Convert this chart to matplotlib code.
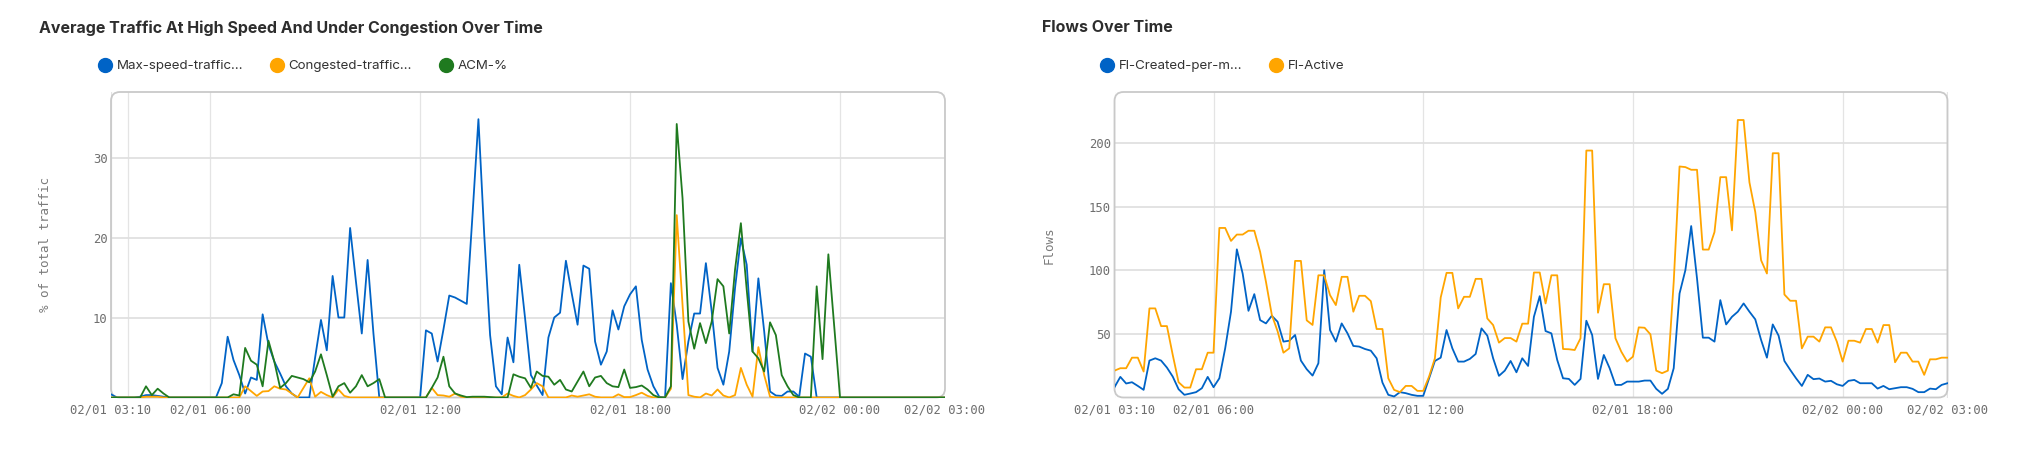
import matplotlib
matplotlib.use("Agg")
import matplotlib.dates as mdates
import matplotlib.pyplot as plt
import pandas as pd
from matplotlib.lines import Line2D
from matplotlib.patches import FancyBboxPatch

W, H = 2035, 468

# 10-minute samples, 02/01 03:10 -> 02/02 03:00
START = "2024-02-01 03:10"
N_POINTS = 144

left_title = "Average Traffic At High Speed And Under Congestion Over Time"
left_labels = ["Max-speed-traffic…", "Congested-traffic…", "ACM-%"]
left_ylabel = "% of total traffic"
left_yticks = [10, 20, 30]

right_title = "Flows Over Time"
right_labels = ["Fl-Created-per-m…", "Fl-Active"]
right_ylabel = "Flows"
right_yticks = [50, 100, 150, 200]

xtick_times = ["2024-02-01 03:10", "2024-02-01 06:00", "2024-02-01 12:00",
               "2024-02-01 18:00", "2024-02-02 00:00", "2024-02-02 03:00"]

max_speed = [
    0.4, 0, 0, 0, 0, 0.1, 0.3, 0.3, 0.2, 0.1, 0, 0,
    0, 0, 0, 0, 0, 0, 0, 1.8, 7.6, 4.7, 2.8, 0.5,
    2.5, 2.2, 10.4, 6.6, 4.5, 3.0, 1.4, 0.5, 0, 0, 0, 5.0,
    9.7, 5.9, 15.2, 10.0, 10.0, 21.2, 14.5, 8.0, 17.2, 8.0, 0, 0,
    0, 0, 0, 0, 0, 0, 8.4, 8.0, 4.5, 8.5, 12.75, 12.5,
    12.1, 11.7, 23.0, 34.8, 20.3, 7.8, 1.4, 0.4, 7.5, 4.4, 16.6, 9.9,
    2.8, 1.5, 0.3, 7.5, 10.0, 10.6, 17.1, 13.0, 9.1, 16.5, 16.1, 7.0,
    4.1, 5.75, 10.9, 8.5, 11.4, 12.9, 13.9, 7.2, 3.5, 1.4, 0.1, 0,
    14.3, 9.1, 2.3, 7.0, 10.5, 10.5, 16.8, 10.75, 3.7, 1.6, 5.75, 13.7,
    19.9, 16.6, 5.75, 14.9, 8.25, 0.75, 0.25, 0.2, 0.75, 0.75, 0.1, 5.5,
    5.1, 0, 0, 0, 0, 0, 0, 0, 0, 0, 0, 0,
    0, 0, 0, 0, 0, 0, 0, 0, 0, 0, 0, 0,
]
congested = [
    0, 0, 0, 0, 0, 0, 0.1, 0.1, 0.1, 0, 0, 0,
    0, 0, 0, 0, 0, 0, 0, 0, 0, 0, 0, 1.4,
    0.8, 0.2, 0.75, 0.8, 1.4, 1.1, 1.0, 0.5, 0, 1.2, 2.4, 0.1,
    0.7, 0.3, 0, 1.0, 0.2, 0, 0, 0, 0, 0, 0, 0,
    0, 0, 0, 0, 0, 0, 0, 1.2, 0.3, 0.25, 0.1, 0.5,
    0.1, 0, 0, 0, 0, 0, 0, 0, 0.5, 0.2, 0, 0.3,
    1.0, 1.8, 1.4, 0, 0, 0, 0, 0.25, 0.1, 0.25, 0.4, 0.1,
    0, 0, 0, 0.4, 0.05, 0.05, 0.3, 0.6, 0.2, 0, 0, 0,
    1.1, 22.8, 11.6, 0.3, 0.1, 0, 0.5, 0.25, 1.0, 0.25, 0, 0.3,
    3.7, 1.6, 0.1, 6.3, 2.8, 0.1, 0, 0, 0, 0, 0, 0,
    0, 0, 0, 0, 0, 0, 0, 0, 0, 0, 0, 0,
    0, 0, 0, 0, 0, 0, 0, 0, 0, 0, 0, 0,
]
acm = [
    0, 0, 0, 0, 0, 0, 1.4, 0.3, 1.1, 0.5, 0, 0,
    0, 0, 0, 0, 0, 0, 0, 0, 0, 0.4, 0.25, 6.2,
    4.6, 4.1, 1.4, 7.1, 4.5, 1.2, 1.8, 2.7, 2.5, 2.3, 1.9, 3.25,
    5.4, 2.8, 0.1, 1.4, 1.8, 0.6, 1.4, 2.8, 1.4, 1.8, 2.3, 0,
    0, 0, 0, 0, 0, 0, 0, 1.2, 2.5, 5.1, 1.4, 0.5,
    0.25, 0.05, 0.1, 0.1, 0.1, 0.05, 0, 0, 0, 2.9, 2.6, 2.4,
    1.2, 3.25, 2.7, 2.6, 1.6, 2.2, 1.0, 0.75, 2.0, 3.25, 1.4, 2.5,
    2.7, 1.8, 1.4, 1.3, 3.5, 1.2, 1.3, 1.5, 1.0, 0.3, 0, 0,
    1.4, 34.2, 24.9, 9.5, 6.1, 9.3, 6.8, 9.5, 14.8, 13.9, 8.0, 16.0,
    21.8, 13.5, 5.75, 4.9, 3.25, 9.4, 7.8, 2.8, 1.4, 0.3, 0, 0,
    0, 13.9, 4.8, 17.9, 9.0, 0, 0, 0, 0, 0, 0, 0,
    0, 0, 0, 0, 0, 0, 0, 0, 0, 0, 0, 0,
]

flows_created = [
    8.1, 16.2, 11, 12, 9.1, 6.0, 29, 30.8, 29, 23.5, 16.4, 6.5,
    2.1, 3.1, 4.2, 7.3, 16.2, 8.1, 15.1, 38.6, 67.4, 116.4, 97.4, 68.1,
    81.2, 60.8, 58.2, 64.2, 59.5, 43.9, 44.6, 49.1, 29, 22.2, 17.2, 26.9,
    100, 53, 43.9, 58.2, 50.4, 40.5, 40, 38.1, 36.8, 30.8, 11.7, 2.1,
    0.8, 4.2, 3.4, 2.1, 1.3, 1.3, 15.1, 28.7, 31.3, 53, 38.6, 28.2,
    28.2, 30.3, 34.2, 54.3, 48.6, 30.8, 17, 21.1, 28.7, 19.8, 30.8, 24.8,
    63.4, 79.6, 52.2, 50.4, 29.5, 15.1, 14.6, 9.9, 14.6, 60.3, 49.1, 14.6,
    33.4, 23, 9.9, 9.9, 12.5, 12.5, 12.5, 13.3, 13.3, 6.8, 2.9, 6.8,
    23, 81.7, 100, 134.7, 93.5, 47, 47, 43.9, 76.5, 57.4, 63.4, 67.4,
    73.9, 67.4, 61.4, 45.2, 31.3, 57.4, 48.6, 28.7, 21.7, 15.1, 9.1, 17.8,
    14.4, 14.9, 12.5, 13.1, 10.4, 9.1, 13.1, 13.8, 11.2, 11.2, 11.2, 7.0,
    9.1, 6.5, 7.3, 8.1, 8.1, 6.8, 4.2, 4.2, 7.0, 6.5, 9.9, 11.2,
]
flows_active = [
    21.1, 23, 23, 31.3, 31.3, 20.4, 70, 70, 56.1, 56.1, 33.4, 12,
    7.8, 7.8, 22.2, 22.2, 35.2, 35.2, 133.2, 133.2, 123, 128, 128, 131,
    131, 114.4, 90.9, 65, 52, 35.2, 38.6, 107.3, 107.3, 60.6, 57, 96,
    96, 80.4, 72.6, 94.8, 94.8, 67.4, 79.9, 79.9, 75.7, 53.8, 53.8, 15.1,
    6.0, 4.2, 9.1, 9.1, 5.2, 5.2, 16.4, 30.8, 78.6, 97.9, 97.9, 70,
    79.1, 79.1, 93.2, 93.2, 62.1, 56.9, 43.1, 46.7, 46.7, 43.9, 58, 58,
    98.2, 98.2, 73.9, 96, 96, 38.1, 37.9, 37.3, 46.5, 194, 194, 66.6,
    89, 89, 46.5, 36, 28.2, 32.1, 55.1, 54.8, 49.6, 21.1, 19.1, 21.1,
    90.9, 181.5, 181, 178.9, 178.9, 116.2, 116.2, 130, 173.1, 173.1, 131.3, 218,
    218, 169, 145.7, 107.8, 97.4, 191.9, 191.9, 80.9, 76, 76, 38.6, 47.8,
    47.8, 43.9, 55.1, 55.1, 43.9, 28.2, 44.6, 44.6, 43.1, 53.8, 53.8, 43.1,
    56.9, 56.9, 27.7, 35.2, 35.2, 28.2, 28.2, 17.8, 30, 30, 31.3, 31.3,
]

BLUE = "#0063c6"
ORANGE = "#ffa500"
GREEN = "#1f7a1f"
TEXT = "#2d2d2d"
TICK = "#6e6e6e"
SANS = ["Inter", "DejaVu Sans"]
MONO = ["DejaVu Sans Mono"]
LINE_W = 1.3


def style_panel(ax, times, ylim, yticks, ylabel, label_x, extra_grid=None):
    ax.set_xlim(times[0], times[-1])
    ax.set_ylim(*ylim)
    ax.set_yticks(yticks)
    ax.set_xticks(pd.to_datetime(xtick_times))
    ax.xaxis.set_major_formatter(mdates.DateFormatter("%m/%d %H:%M"))
    if extra_grid is not None:
        ax.set_xticks(pd.to_datetime(extra_grid), minor=True)
    for side in ax.spines.values():
        side.set_visible(False)
    ax.tick_params(axis="both", which="both", length=0, colors=TICK, labelsize=8.8)
    ax.tick_params(axis="y", pad=2.5)
    ax.tick_params(axis="x", pad=4.5)
    for lab in ax.get_xticklabels() + ax.get_yticklabels():
        lab.set_family(MONO)
    ax.grid(axis="y", color="#e0e0e0", lw=1.3, zorder=0)
    ax.grid(axis="x", which="both", color="#e4e4e4", lw=0.9, zorder=0)
    ax.set_axisbelow(True)
    ax.set_ylabel(ylabel, family=MONO, fontsize=9, color="#7a7a7a")
    ax.yaxis.set_label_coords(label_x, 0.5)

    bb = ax.get_position()
    w_px, h_px = bb.width * W, bb.height * H
    box = FancyBboxPatch((0, 0), 1, 1, boxstyle=f"round,pad=0,rounding_size={9 / w_px}",
                         mutation_aspect=w_px / h_px, transform=ax.transAxes,
                         facecolor="none", edgecolor="#c9c9c9", lw=1.3,
                         clip_on=False, zorder=1.5)
    ax.add_patch(box)


def add_legend(ax, colors, labels, x_px):
    handles = [Line2D([], [], marker="o", ls="none", color=c, markersize=10) for c in colors]
    ax.legend(handles, labels, loc="center left", bbox_to_anchor=(x_px / W, 1 - 66 / H),
              bbox_transform=ax.figure.transFigure, ncol=len(labels), frameon=False,
              handlelength=1.05, handletextpad=0.35, columnspacing=2.0,
              borderpad=0, borderaxespad=0, labelcolor="#333333",
              prop={"family": SANS, "size": 9.6})


def main() -> None:
    times = pd.date_range(START, periods=N_POINTS, freq="10min")

    fig = plt.figure(figsize=(W / 100, H / 100), dpi=100)
    bottom = 1 - 397.5 / H
    height = 305.5 / H
    ax_l = fig.add_axes([111 / W, bottom, 834 / W, height])
    ax_r = fig.add_axes([1114.5 / W, bottom, 833 / W, height])

    ax_l.plot(times, max_speed, color=BLUE, lw=LINE_W, zorder=2)
    ax_l.plot(times, congested, color=ORANGE, lw=LINE_W, zorder=2)
    ax_l.plot(times, acm, color=GREEN, lw=LINE_W, zorder=2)
    style_panel(ax_l, times, (0, 38.2), left_yticks, left_ylabel, -0.071,
                extra_grid=["2024-02-01 03:40"])
    add_legend(ax_l, [BLUE, ORANGE, GREEN], left_labels, 98)

    ax_r.plot(times, flows_created, color=BLUE, lw=LINE_W, zorder=2)
    ax_r.plot(times, flows_active, color=ORANGE, lw=LINE_W, zorder=2)
    style_panel(ax_r, times, (0, 240), right_yticks, right_ylabel, -0.0705)
    add_legend(ax_r, [BLUE, ORANGE], right_labels, 1100)

    fig.text(39 / W, 1 - 28 / H, left_title, ha="left", va="center",
             fontsize=11.5, fontweight="bold", color=TEXT, family=SANS)
    fig.text(1042 / W, 1 - 28 / H, right_title, ha="left", va="center",
             fontsize=11.5, fontweight="bold", color=TEXT, family=SANS)

    fig.savefig("out.png", dpi=100)
    plt.close(fig)


if __name__ == "__main__":
    main()
